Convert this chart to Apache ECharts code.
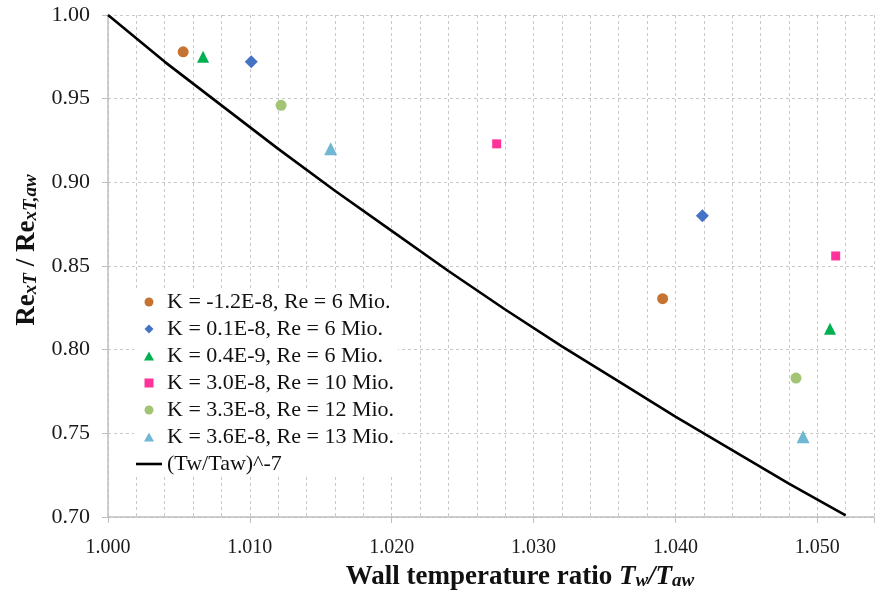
<!DOCTYPE html>
<html>
<head>
<meta charset="utf-8">
<script src="https://cdn.jsdelivr.net/npm/echarts@6/dist/echarts.min.js"></script>
<style>html,body{margin:0;padding:0;background:#fff}#c{width:881px;height:596px}</style>
</head>
<body>
<div id="c"></div>
<script>
// ---- data ----
const seriesNames = [
  'K = -1.2E-8, Re = 6 Mio.',
  'K = 0.1E-8, Re = 6 Mio.',
  'K = 0.4E-9, Re = 6 Mio.',
  'K = 3.0E-8, Re = 10 Mio.',
  'K = 3.3E-8, Re = 12 Mio.',
  'K = 3.6E-8, Re = 13 Mio.'
];
const kNeg12 = [[1.0053, 0.978], [1.0391, 0.8305]];
const k01    = [[1.0101, 0.972], [1.0419, 0.880]];
const k04    = [[1.0067, 0.975], [1.0509, 0.8125]];
const k30    = [[1.0274, 0.923], [1.0513, 0.856]];
const k33    = [[1.0122, 0.946], [1.0485, 0.783]];
const k36    = [[1.0157, 0.920], [1.0490, 0.748]];
const lineName = '(Tw/Taw)^-7';
const lineX = [1.000, 1.004, 1.008, 1.012, 1.016, 1.020, 1.024, 1.028, 1.032, 1.036, 1.040, 1.044, 1.048, 1.052];
const lineY = [1.000, 0.972, 0.946, 0.920, 0.895, 0.871, 0.847, 0.824, 0.802, 0.781, 0.760, 0.740, 0.720, 0.701];
const xTickLabels = ['1.000', '1.010', '1.020', '1.030', '1.040', '1.050'];
const yTickLabels = ['0.70', '0.75', '0.80', '0.85', '0.90', '0.95', '1.00'];

// ---- styles ----
const colors = ['#C67332', '#4472C4', '#00B050', '#FF3399', '#A3C475', '#6FB7D2'];
const symbols = ['circle', 'diamond', 'triangle', 'rect', 'circle', 'triangle'];
const legendIcons = [
  'circle',
  'path://M5,0 L10,5 L5,10 L0,5 Z',
  'path://M5,0 L10,9 L0,9 Z',
  'path://M0,0 L8,0 L8,8 L0,8 Z',
  'circle',
  'path://M5,0 L10,9 L0,9 Z'
];
const lineIcon = 'path://M0,0 L26,0 L26,2.6 L0,2.6 Z';
const sizes = [11, 13, 12, 9, 11, 13];
const pointSets = [kNeg12, k01, k04, k30, k33, k36];
const font = '"Liberation Serif", "Times New Roman", serif';

const series = pointSets.map((d, i) => ({
  name: seriesNames[i],
  type: 'scatter',
  xAxisIndex: 0,
  data: d,
  symbol: symbols[i],
  symbolSize: sizes[i],
  itemStyle: { color: colors[i], opacity: 1 },
  z: 3
}));
series.push({
  name: lineName,
  type: 'line',
  xAxisIndex: 0,
  data: lineX.map((x, i) => [x, lineY[i]]),
  showSymbol: false,
  symbol: 'none',
  lineStyle: { color: '#000', width: 2.6 },
  itemStyle: { color: '#000' },
  z: 2
});

const option = {
  animation: false,
  backgroundColor: '#fff',
  textStyle: { fontFamily: font },
  grid: { left: 108, right: 7, top: 15, bottom: 79, containLabel: false },
  legend: {
    orient: 'vertical',
    left: 134, top: 289,
    itemWidth: 26, itemHeight: 9,
    itemGap: 5,
    backgroundColor: '#fff',
    padding: [2, 4, 2, 2],
    textStyle: { fontFamily: font, fontSize: 22, color: '#111' },
    data: seriesNames.map((n, i) => ({ name: n, icon: legendIcons[i] })).concat([{ name: lineName, icon: lineIcon }])
  },
  xAxis: [
    {
      type: 'value', min: 1.0, max: 1.054, interval: 0.002,
      axisLine: { show: true, lineStyle: { color: '#bfbfbf', width: 1.5 } },
      axisTick: { show: false },
      axisLabel: { show: false },
      splitLine: { show: true, lineStyle: { color: '#c8c8c8', type: [3, 3], width: 1 } }
    },
    {
      type: 'value', min: 1.0, max: 1.054, interval: 0.01, position: 'bottom',
      axisLine: { show: false },
      axisTick: { show: true, length: 6, lineStyle: { color: '#bfbfbf' } },
      splitLine: { show: false },
      axisLabel: {
        fontFamily: font, fontSize: 20, color: '#1a1a1a', margin: 21,
        formatter: v => {
          const idx = Math.round((v - 1) * 100);
          return Math.abs((v - 1) * 100 - idx) < 1e-6 && xTickLabels[idx] ? xTickLabels[idx] : '';
        }
      },
      name: '{b|Wall temperature ratio }{i|T}{si|w}{i|/T}{si|aw}',
      nameLocation: 'middle',
      nameGap: 47,
      nameTextStyle: {
        padding: [0, 0, 0, 58],
        rich: {
          b: { fontFamily: font, fontSize: 27, fontWeight: 'bold', color: '#111', lineHeight: 27, verticalAlign: 'bottom' },
          i: { fontFamily: font, fontSize: 27, fontWeight: 'bold', fontStyle: 'italic', color: '#111', lineHeight: 27, verticalAlign: 'bottom' },
          si: { fontFamily: font, fontSize: 19, fontWeight: 'bold', fontStyle: 'italic', color: '#111', lineHeight: 10, verticalAlign: 'bottom' }
        }
      }
    }
  ],
  yAxis: {
    type: 'value', min: 0.70, max: 1.00, interval: 0.05,
    axisLine: { show: true, lineStyle: { color: '#bfbfbf', width: 1.5 } },
    axisTick: { show: true, length: 6, lineStyle: { color: '#bfbfbf' } },
    axisLabel: {
      fontFamily: font, fontSize: 22, color: '#1a1a1a', margin: 18,
      formatter: v => {
        const idx = Math.round((v - 0.70) / 0.05);
        return yTickLabels[idx] || '';
      }
    },
    splitLine: { show: true, lineStyle: { color: '#c8c8c8', type: [3, 3], width: 1 } },
    name: '{b|Re}{s|xT}{b| / Re}{s|xT,aw}',
    nameLocation: 'middle',
    nameRotate: 90,
    nameGap: 64,
    nameTextStyle: {
      padding: [0, 0, 0, 32],
      rich: {
        b: { fontFamily: font, fontSize: 27, fontWeight: 'bold', color: '#111', lineHeight: 27, verticalAlign: 'bottom' },
        s: { fontFamily: font, fontSize: 19, fontWeight: 'bold', fontStyle: 'italic', color: '#111', lineHeight: 10, verticalAlign: 'bottom' }
      }
    }
  },
  series: series
};

const chart = echarts.init(document.getElementById('c'), null, { renderer: 'canvas' });
chart.setOption(option);
</script>
</body>
</html>
